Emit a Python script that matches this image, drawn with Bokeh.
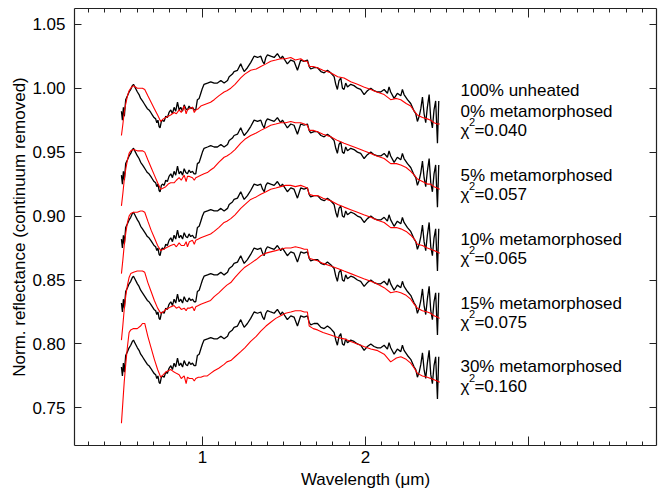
from bokeh.plotting import figure
from bokeh.models import Range1d, LinearAxis, FixedTicker, PrintfTickFormatter, CustomJSTickFormatter
from bokeh.core.properties import value
from bokeh.embed import file_html
from bokeh.resources import INLINE

# ---------------- data ----------------
wl_black = [0.503, 0.509, 0.515, 0.521, 0.529, 0.540, 0.550, 0.560, 0.570, 0.577,
            0.585, 0.601, 0.611, 0.621, 0.632, 0.642, 0.652, 0.662, 0.672, 0.683,
            0.693, 0.703, 0.713, 0.720, 0.727, 0.734, 0.740, 0.748, 0.755, 0.765,
            0.775, 0.785, 0.795, 0.806, 0.816, 0.826, 0.836, 0.847, 0.857, 0.867,
            0.878, 0.888, 0.898, 0.908, 0.918, 0.928, 0.939, 0.949, 0.959, 0.969,
            0.980, 0.990, 1.000, 1.010, 1.031, 1.051, 1.072, 1.092, 1.113, 1.133,
            1.154, 1.164, 1.184, 1.194, 1.215, 1.235, 1.245, 1.256, 1.276, 1.296,
            1.317, 1.338, 1.358, 1.369, 1.379, 1.389, 1.399, 1.419, 1.440, 1.460,
            1.480, 1.491, 1.511, 1.521, 1.542, 1.562, 1.583, 1.603, 1.623, 1.644,
            1.655, 1.664, 1.685, 1.706, 1.727, 1.747, 1.767, 1.787, 1.808, 1.818,
            1.828, 1.838, 1.849, 1.859, 1.869, 1.879, 1.890, 1.910, 1.930, 1.951,
            1.971, 1.992, 2.012, 2.033, 2.053, 2.074, 2.094, 2.115, 2.135, 2.145,
            2.155, 2.176, 2.196, 2.217, 2.227, 2.237, 2.258, 2.278, 2.299, 2.309,
            2.319, 2.330, 2.340, 2.350, 2.360, 2.370, 2.380, 2.391, 2.401, 2.411,
            2.421, 2.431, 2.442, 2.450]
refl_black = [0.982, 0.975, 0.985, 0.978, 0.991, 0.994, 0.997, 0.999, 1.002, 1.003,
              1.001, 0.997, 0.995, 0.992, 0.990, 0.988, 0.986, 0.984, 0.983, 0.981,
              0.979, 0.977, 0.976, 0.973, 0.975, 0.970, 0.969, 0.974, 0.975, 0.974,
              0.978, 0.977, 0.981, 0.983, 0.980, 0.985, 0.982, 0.989, 0.983, 0.985,
              0.982, 0.987, 0.984, 0.983, 0.986, 0.984, 0.985, 0.983, 0.983, 0.991,
              0.992, 0.996, 1.000, 1.003, 1.004, 1.005, 1.004, 1.004, 1.006, 1.004,
              1.006, 1.009, 1.011, 1.013, 1.014, 1.019, 1.016, 1.013, 1.016, 1.020,
              1.025, 1.024, 1.025, 1.021, 1.019, 1.024, 1.026, 1.025, 1.024, 1.027,
              1.023, 1.025, 1.021, 1.019, 1.022, 1.021, 1.014, 1.022, 1.021, 1.022,
              1.017, 1.015, 1.016, 1.016, 1.013, 1.012, 1.014, 1.012, 1.009, 1.003,
              0.999, 1.006, 1.008, 1.000, 0.999, 1.004, 1.001, 1.003, 1.002, 1.000,
              0.999, 0.995, 0.998, 1.000, 0.998, 0.997, 0.997, 0.999, 0.996, 1.001,
              0.997, 0.992, 0.996, 0.994, 0.999, 0.995, 0.991, 0.988, 0.982, 0.980,
              0.974, 0.978, 0.984, 0.993, 0.980, 0.973, 0.985, 0.995, 0.976, 0.969,
              0.983, 0.990, 0.957, 0.990]

wl_model = [0.503, 0.512, 0.520, 0.530, 0.540, 0.550, 0.560, 0.577, 0.600, 0.620,
            0.632, 0.646, 0.665, 0.685, 0.705, 0.725, 0.744, 0.760, 0.775, 0.790,
            0.805, 0.826, 0.840, 0.857, 0.870, 0.888, 0.900, 0.908, 0.920, 0.939,
            0.950, 0.959, 0.975, 0.990, 1.010, 1.030, 1.050, 1.072, 1.100, 1.133,
            1.150, 1.174, 1.200, 1.235, 1.260, 1.296, 1.330, 1.358, 1.390, 1.419,
            1.450, 1.480, 1.510, 1.542, 1.570, 1.603, 1.625, 1.644, 1.655, 1.680,
            1.706, 1.740, 1.787, 1.830, 1.869, 1.910, 1.951, 1.990, 2.033, 2.070,
            2.115, 2.155, 2.190, 2.217, 2.250, 2.278, 2.300, 2.319, 2.350, 2.380,
            2.400, 2.421, 2.440, 2.456]
model_0 = [0.963, 0.972, 0.981, 0.988, 0.994, 0.998, 1.000, 1.002, 1.000, 1.000,
           1.000, 0.999, 0.994, 0.989, 0.984, 0.979, 0.974, 0.976, 0.977, 0.978,
           0.979, 0.981, 0.980, 0.983, 0.981, 0.986, 0.980, 0.983, 0.984, 0.985,
           0.981, 0.983, 0.984, 0.986, 0.987, 0.988, 0.989, 0.991, 0.994, 0.997,
           0.998, 1.000, 1.003, 1.008, 1.011, 1.014, 1.015, 1.017, 1.019, 1.021,
           1.022, 1.023, 1.023, 1.024, 1.022, 1.023, 1.021, 1.021, 1.017, 1.017,
           1.016, 1.014, 1.012, 1.009, 1.008, 1.005, 1.003, 1.001, 0.999, 0.997,
           0.995, 0.991, 0.992, 0.991, 0.988, 0.986, 0.982, 0.979, 0.977, 0.976,
           0.975, 0.973, 0.972, 0.972]
model_5 = [0.958, 0.968, 0.978, 0.987, 0.994, 0.999, 1.001, 1.002, 1.001, 1.001,
           1.001, 1.000, 0.994, 0.988, 0.982, 0.976, 0.971, 0.972, 0.973, 0.975,
           0.976, 0.976, 0.978, 0.980, 0.978, 0.982, 0.977, 0.981, 0.981, 0.980,
           0.978, 0.980, 0.981, 0.982, 0.983, 0.984, 0.986, 0.988, 0.992, 0.996,
           0.997, 0.999, 1.002, 1.007, 1.010, 1.013, 1.015, 1.017, 1.019, 1.021,
           1.022, 1.023, 1.023, 1.024, 1.023, 1.023, 1.022, 1.021, 1.017, 1.017,
           1.016, 1.014, 1.012, 1.009, 1.007, 1.005, 1.003, 1.001, 0.999, 0.997,
           0.995, 0.991, 0.991, 0.990, 0.988, 0.985, 0.982, 0.979, 0.977, 0.975,
           0.975, 0.973, 0.972, 0.971]
model_10 = [0.955, 0.966, 0.977, 0.987, 0.995, 1.000, 1.002, 1.003, 1.003, 1.004,
            1.004, 1.003, 0.996, 0.989, 0.983, 0.977, 0.973, 0.974, 0.975, 0.976,
            0.977, 0.978, 0.976, 0.979, 0.977, 0.977, 0.980, 0.976, 0.980, 0.981,
            0.978, 0.981, 0.982, 0.983, 0.984, 0.985, 0.986, 0.988, 0.991, 0.995,
            0.996, 0.998, 1.001, 1.006, 1.009, 1.013, 1.015, 1.017, 1.019, 1.021,
            1.022, 1.023, 1.024, 1.024, 1.023, 1.024, 1.023, 1.022, 1.017, 1.016,
            1.016, 1.014, 1.012, 1.009, 1.007, 1.005, 1.003, 1.001, 0.999, 0.997,
            0.995, 0.991, 0.991, 0.990, 0.988, 0.985, 0.982, 0.978, 0.977, 0.975,
            0.974, 0.973, 0.972, 0.971]
model_15 = [0.953, 0.965, 0.977, 0.988, 0.996, 1.002, 1.005, 1.006, 1.007, 1.007,
            1.007, 1.006, 0.998, 0.991, 0.984, 0.978, 0.974, 0.975, 0.977, 0.978,
            0.979, 0.980, 0.978, 0.979, 0.977, 0.978, 0.976, 0.978, 0.978, 0.979,
            0.976, 0.979, 0.980, 0.981, 0.982, 0.983, 0.984, 0.987, 0.990, 0.994,
            0.996, 0.998, 1.002, 1.007, 1.010, 1.013, 1.016, 1.019, 1.021, 1.022,
            1.023, 1.024, 1.025, 1.025, 1.026, 1.025, 1.024, 1.024, 1.017, 1.016,
            1.015, 1.013, 1.011, 1.009, 1.007, 1.005, 1.003, 1.001, 0.999, 0.997,
            0.994, 0.990, 0.991, 0.990, 0.988, 0.985, 0.981, 0.978, 0.976, 0.975,
            0.974, 0.972, 0.971, 0.970]
model_30 = [0.938, 0.955, 0.970, 0.985, 0.998, 1.009, 1.011, 1.012, 1.012, 1.014,
            1.016, 1.016, 1.006, 0.997, 0.988, 0.980, 0.974, 0.976, 0.978, 0.979,
            0.980, 0.978, 0.977, 0.976, 0.973, 0.975, 0.969, 0.974, 0.973, 0.973,
            0.971, 0.973, 0.974, 0.974, 0.975, 0.975, 0.977, 0.979, 0.981, 0.984,
            0.986, 0.987, 0.990, 0.994, 0.997, 1.002, 1.006, 1.010, 1.014, 1.017,
            1.020, 1.022, 1.024, 1.025, 1.026, 1.026, 1.025, 1.025, 1.014, 1.012,
            1.011, 1.009, 1.007, 1.005, 1.004, 1.002, 1.000, 0.998, 0.996, 0.995,
            0.992, 0.986, 0.989, 0.990, 0.988, 0.985, 0.981, 0.977, 0.975, 0.974,
            0.973, 0.972, 0.971, 0.970]
models = [model_0, model_5, model_10, model_15, model_30]
offsets = [0.0, -0.05, -0.10, -0.15, -0.20]

header_label = "100% unheated"
mix_labels = ["0% metamorphosed", "5% metamorphosed", "10% metamorphosed",
              "15% metamorphosed", "30% metamorphosed"]
chi2_values = ["=0.040", "=0.057", "=0.065", "=0.075", "=0.160"]

x_major = [1, 2, 3]
x_major_labels = {1: "1", 2: "2", 3: ""}
x_minor = [round(0.1 * i, 1) for i in range(3, 38) if i % 10 != 0]
y_major = [0.75, 0.80, 0.85, 0.90, 0.95, 1.00, 1.05]

# ---------------- figure ----------------
FONT = "Liberation Sans"
FS = "17px"
AX = "#222222"

p = figure(width=662, height=495,
           x_range=Range1d(0.215, 3.786), y_range=Range1d(0.7206, 1.0623),
           output_backend="svg", toolbar_location=None,
           min_border_left=74, min_border_right=6, min_border_top=8, min_border_bottom=50)
p.outline_line_color = None
p.xgrid.visible = False
p.ygrid.visible = False
p.background_fill_color = "white"
p.border_fill_color = "white"

def style_axis(ax, labels=True):
    ax.axis_line_color = AX
    ax.axis_line_width = 1.2
    ax.major_tick_line_color = AX
    ax.minor_tick_line_color = AX
    ax.major_tick_out = 0
    ax.minor_tick_out = 0
    ax.major_label_text_font = FONT
    ax.major_label_text_font_size = FS if labels else "0px"
    ax.major_label_text_color = "black"
    ax.axis_label_text_font = FONT
    ax.axis_label_text_font_size = FS
    ax.axis_label_text_font_style = "normal"
    ax.axis_label_text_color = "black"
    if not labels:
        ax.formatter = CustomJSTickFormatter(code="return ''")
        ax.major_label_standoff = 0

xt = FixedTicker(ticks=x_major, minor_ticks=x_minor)
yt = FixedTicker(ticks=y_major, minor_ticks=[])

xb = p.xaxis[0]
xb.ticker = xt
style_axis(xb)
xb.major_label_overrides = x_major_labels
xb.major_tick_in = 9
xb.minor_tick_in = 4
xb.major_label_standoff = 5
xb.axis_label = "Wavelength (\u03bcm)"
xb.axis_label_standoff = 4

yl = p.yaxis[0]
yl.ticker = yt
style_axis(yl)
yl.formatter = PrintfTickFormatter(format="%.2f")
yl.major_tick_in = 7
yl.major_label_standoff = 9
yl.axis_label = "Norm. reflectance (continuum removed)"
yl.axis_label_standoff = 0

xa = LinearAxis(ticker=xt)
style_axis(xa, labels=False)
xa.major_tick_in = 9
xa.minor_tick_in = 4
p.add_layout(xa, "above")

yr = LinearAxis(ticker=yt)
style_axis(yr, labels=False)
yr.major_tick_in = 7
p.add_layout(yr, "right")

# ---------------- spectra ----------------
for model, off in zip(models, offsets):
    p.line(wl_black, [v + off for v in refl_black], line_color="black", line_width=1.3)
    p.line(wl_model, [v + off for v in model], line_color="#ff0000", line_width=1.1)

# ---------------- annotations ----------------
x_txt = 2.583
tfont = value(FONT)
p.text(x=[x_txt], y=[0.998], text=[header_label], text_font=tfont,
       text_font_size=FS, text_baseline="middle", text_align="left", text_color="black")
mix_y = [0.982 + off for off in offsets]
chi_y = [0.967 + off for off in offsets]
n = len(offsets)
p.text(x=[x_txt] * n, y=mix_y, text=mix_labels, text_font=tfont,
       text_font_size=FS, text_baseline="middle", text_align="left", text_color="black")
p.text(x=[x_txt] * n, y=chi_y, text=["\u03c7"] * n, text_font=tfont,
       text_font_size=FS, text_baseline="middle", text_align="left", text_color="black")
p.text(x=[x_txt] * n, y=chi_y, text=["2"] * n, text_font=tfont, x_offset=8.5, y_offset=-8,
       text_font_size="11px", text_baseline="middle", text_align="left", text_color="black")
p.text(x=[x_txt] * n, y=chi_y, text=chi2_values, text_font=tfont, x_offset=14,
       text_font_size=FS, text_baseline="middle", text_align="left", text_color="black")

open("out.html", "w").write(file_html(p, INLINE))
